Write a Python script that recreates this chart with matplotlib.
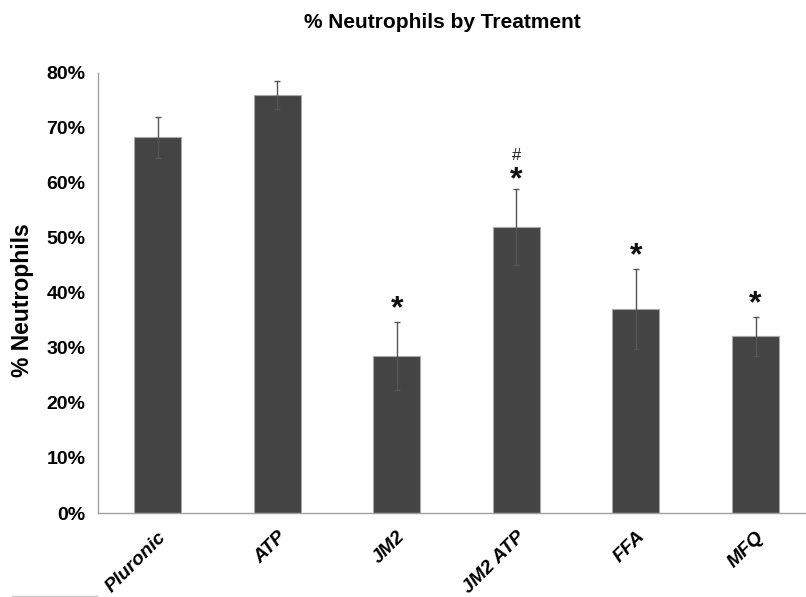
import matplotlib
matplotlib.use("Agg")
import matplotlib.pyplot as plt
from matplotlib.lines import Line2D

categories = ["Pluronic", "ATP", "JM2", "JM2 ATP", "FFA", "MFQ"]
values = [68.3, 76.0, 28.5, 52.0, 37.1, 32.1]
errors = [3.7, 2.6, 6.2, 6.9, 7.2, 3.5]
stars = ["", "", "*", "*", "*", "*"]
hashes = ["", "", "", "#", "", ""]
yticks = [0, 10, 20, 30, 40, 50, 60, 70, 80]

plt.rcParams['font.family'] = ['Liberation Sans', 'DejaVu Sans']

fig = plt.figure(figsize=(8.06, 5.97), dpi=100)
ax = fig.add_axes([98/806, 1-513/597, 1-98/806, (513-73)/597])

x = list(range(len(categories)))
ax.bar(x, values, width=0.393, color='#444444', edgecolor='#a8a8a8', linewidth=0.8, zorder=2)
ax.errorbar(x, values, yerr=errors, fmt='none', ecolor='#555555', elinewidth=1.0,
            capsize=2.5, capthick=1.0, zorder=3)

star_off = [13, 13, 13, 9, 13, 13]
for xi, v, e, s, h, off in zip(x, values, errors, stars, hashes, star_off):
    if s:
        ax.annotate(s, (xi, v + e), xytext=(0, off), textcoords='offset pixels',
                    ha='center', va='center', fontsize=23, fontweight='bold', color='#111111')
    if h:
        ax.annotate(h, (xi, v + e), xytext=(0, off + 25), textcoords='offset pixels',
                    ha='center', va='center', fontsize=12, color='#222222')

ax.set_ylim(0, 80)
ax.set_xlim(-0.5, (806 - 157.5) / 119.6)
ax.set_yticks(yticks)
ax.set_yticklabels([f"{t}%" for t in yticks], fontsize=14, fontweight='bold')
ax.set_xticks(x)
ax.set_xticklabels(categories, rotation=45, ha='right', va='top', rotation_mode='anchor',
                   fontsize=14, fontweight='bold', fontstyle='italic')
ax.tick_params(axis='both', length=0)
ax.tick_params(axis='y', pad=9)
ax.tick_params(axis='x', pad=11)

for sp in ['top', 'right']:
    ax.spines[sp].set_visible(False)
for sp in ['left', 'bottom']:
    ax.spines[sp].set_color('#a0a0a0')
    ax.spines[sp].set_linewidth(1.0)

fig.text(442/806, 1-23/597, "% Neutrophils by Treatment", ha='center', va='center',
         fontsize=15, fontweight='bold')
fig.text(23/806, 1-300/597, "% Neutrophils", ha='center', va='center', rotation=90,
         fontsize=16.5, fontweight='bold')

fig.add_artist(Line2D([12/806, 97/806], [1-596/597, 1-596/597], color='#c8c8c8', linewidth=1.0))

fig.savefig("out.png", dpi=100)
